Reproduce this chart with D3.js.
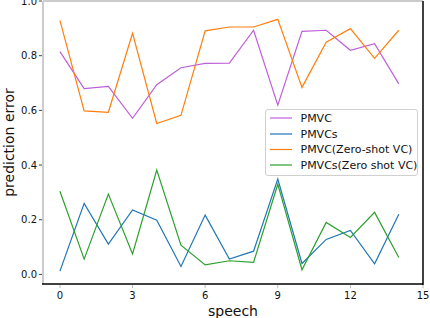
<!DOCTYPE html>
<html><head><meta charset="utf-8">
<script src="https://cdn.jsdelivr.net/npm/d3@7"></script>
<style>body{margin:0;background:#fff}svg{display:block}text{font-family:"DejaVu Sans",sans-serif}</style>
</head><body><svg id="c" width="430" height="318"></svg>
<script>
const xs = [0,1,2,3,4,5,6,7,8,9,10,11,12,13,14];
const pmvc = [0.815,0.680,0.688,0.571,0.694,0.756,0.772,0.773,0.893,0.619,0.889,0.893,0.820,0.844,0.697];
const pmvcs = [0.012,0.260,0.111,0.236,0.198,0.029,0.217,0.056,0.085,0.349,0.040,0.128,0.161,0.039,0.220];
const pmvcZero = [0.929,0.598,0.593,0.882,0.552,0.582,0.891,0.905,0.905,0.933,0.684,0.849,0.899,0.790,0.893];
const pmvcsZero = [0.304,0.056,0.294,0.075,0.382,0.107,0.035,0.050,0.044,0.330,0.017,0.190,0.135,0.227,0.062];
const seriesNames = ["PMVC","PMVCs","PMVC(Zero-shot VC)","PMVCs(Zero shot VC)"];
const seriesColors = ["#bf5fd8","#1f77b4","#ff7f0e","#2ca02c"];
const xTicks = [0,3,6,9,12,15];
const yTicks = [0.0,0.2,0.4,0.6,0.8,1.0];

const svg = d3.select("#c");
const L=43, R=423, T=1, B=284;
const x = d3.scaleLinear().domain([-0.7,15]).range([L,R]);
const y = d3.scaleLinear().domain([-0.035,1.0]).range([B,T]);

// spines
svg.append("line").attr("x1",L).attr("x2",L).attr("y1",T).attr("y2",B).attr("stroke","#cccccc").attr("stroke-width",2);
svg.append("line").attr("x1",L).attr("x2",R).attr("y1",T).attr("y2",T).attr("stroke","#cccccc").attr("stroke-width",2);
svg.append("line").attr("x1",R).attr("x2",R).attr("y1",T).attr("y2",B+1).attr("stroke","#000").attr("stroke-width",1.5);
svg.append("line").attr("x1",L-1).attr("x2",R).attr("y1",B).attr("y2",B).attr("stroke","#000").attr("stroke-width",1.5);

// y ticks
const yAxis = svg.append("g");
yTicks.forEach(t=>{
  yAxis.append("line").attr("x1",L-4).attr("x2",L-1).attr("y1",y(t)).attr("y2",y(t)).attr("stroke","#444").attr("stroke-width",1);
  yAxis.append("text").attr("x",L-6).attr("y",y(t)).attr("dy","0.35em").attr("text-anchor","end")
    .attr("font-size",10).attr("fill","#111").text(d3.format(".1f")(t));
});
// x ticks
const xAxis = svg.append("g");
xTicks.forEach(t=>{
  xAxis.append("line").attr("x1",x(t)).attr("x2",x(t)).attr("y1",B+1).attr("y2",B+4).attr("stroke","#bbb").attr("stroke-width",1);
  xAxis.append("text").attr("x",x(t)).attr("y",B+15).attr("text-anchor","middle")
    .attr("font-size",10).attr("fill","#111").text(t);
});

// labels
svg.append("text").attr("x",(L+R)/2).attr("y",316).attr("text-anchor","middle").attr("font-size",14).attr("fill","#111").text("speech");
svg.append("text").attr("transform",`translate(14,${(T+B)/2}) rotate(-90)`).attr("text-anchor","middle").attr("font-size",14).attr("fill","#111").text("prediction error");

// lines
const data = [pmvc, pmvcs, pmvcZero, pmvcsZero];
const line = d3.line().x((d,i)=>x(xs[i])).y(d=>y(d));
const drawOrder = [0,2,1,3];
drawOrder.forEach(k=>{
  svg.append("path").datum(data[k]).attr("d",line).attr("fill","none")
    .attr("stroke",seriesColors[k]).attr("stroke-width",1.2);
});

// legend
const lg = svg.append("g");
lg.append("rect").attr("x",265.5).attr("y",109.5).attr("width",152).attr("height",66).attr("rx",2.5)
  .attr("fill","rgba(255,255,255,0.85)").attr("stroke","#d0d0d0").attr("stroke-width",1);
const ly = [118, 134, 149.5, 165];
seriesNames.forEach((n,i)=>{
  lg.append("line").attr("x1",270).attr("x2",292).attr("y1",ly[i]).attr("y2",ly[i]).attr("stroke",seriesColors[i]).attr("stroke-width",1.2);
  lg.append("text").attr("x",300.5).attr("y",ly[i]).attr("dy","0.36em").attr("font-size",11).attr("fill","#111").text(n);
});
</script></body></html>
